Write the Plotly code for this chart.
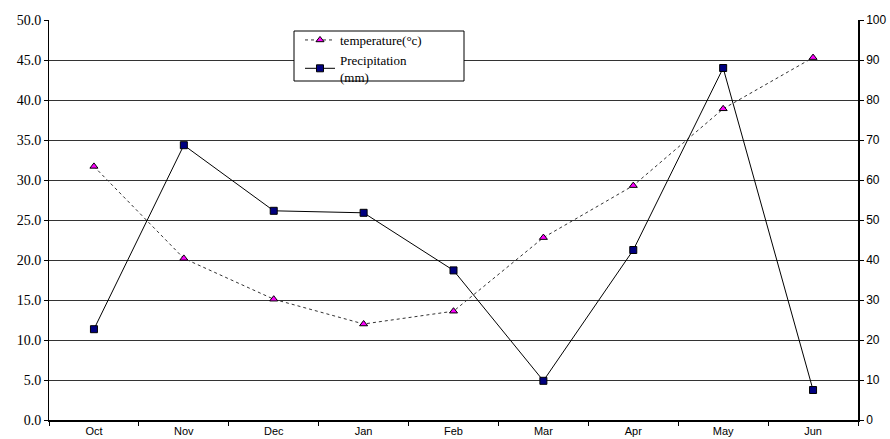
import plotly.graph_objects as go

months = ["Oct", "Nov", "Dec", "Jan", "Feb", "Mar", "Apr", "May", "Jun"]
temperature = [31.7, 20.2, 15.1, 12.0, 13.6, 22.8, 29.3, 38.9, 45.3]
precipitation = [22.7, 68.7, 52.3, 51.8, 37.4, 9.8, 42.5, 88.0, 7.5]

fig = go.Figure()
fig.add_trace(go.Scatter(
    x=months, y=temperature, name="temperature(°c)", mode="lines+markers",
    line=dict(color="#333333", width=1, dash="dot"),
    marker=dict(symbol="triangle-up", size=7, color="#FF00FF",
                line=dict(color="#000000", width=1)),
    yaxis="y"))
fig.add_trace(go.Scatter(
    x=months, y=precipitation, name="Precipitation<br>(mm)", mode="lines+markers",
    line=dict(color="#000000", width=1),
    marker=dict(symbol="square", size=7, color="#000080",
                line=dict(color="#000000", width=1)),
    yaxis="y2"))

# legend frame (drawn as a shape so it can be wider than the entries)
fig.add_shape(type="rect", xref="paper", yref="paper",
              x0=(294 - 49) / 809, x1=(464 - 49) / 809,
              y0=(420 - 81) / 400, y1=(420 - 31) / 400,
              fillcolor="white", line=dict(color="black", width=1), layer="above")

fig.update_layout(
    width=890, height=439,
    margin=dict(l=49, r=32, t=20, b=19, autoexpand=False),
    paper_bgcolor="white", plot_bgcolor="white",
    showlegend=True,
    legend=dict(x=(300 - 49) / 809, y=(420 - 25) / 400, xanchor="left", yanchor="top",
                bgcolor="rgba(0,0,0,0)", borderwidth=0,
                font=dict(family="Liberation Serif", size=13, color="black"),
                tracegroupgap=0, itemwidth=30),
    xaxis=dict(type="category", tickson="boundaries", ticks="outside", ticklen=4,
               tickcolor="black", showgrid=False, showline=True, linecolor="black",
               linewidth=1.5, automargin=False,
               tickfont=dict(family="Liberation Sans", size=11, color="black"),
               range=[-0.5, 8.5]),
    yaxis=dict(range=[0, 50], dtick=5, tickformat=".1f", ticks="outside", ticklen=4,
               tickcolor="black", showline=True, linecolor="black", linewidth=1,
               showgrid=True, gridcolor="#333333", gridwidth=1, zeroline=False,
               automargin=False,
               tickfont=dict(family="Liberation Serif", size=14, color="black")),
    yaxis2=dict(range=[0, 100], dtick=10, overlaying="y", side="right", ticks="outside",
                ticklen=4, tickcolor="black", showline=True, linecolor="black",
                linewidth=1.5, showgrid=False, zeroline=False, automargin=False,
                tickfont=dict(family="Liberation Sans", size=12, color="black")),
)

fig.write_html("out.html",
               config={"displayModeBar": False},
               post_script="document.body.style.margin='0px';"
                           "document.body.style.overflow='hidden';")
